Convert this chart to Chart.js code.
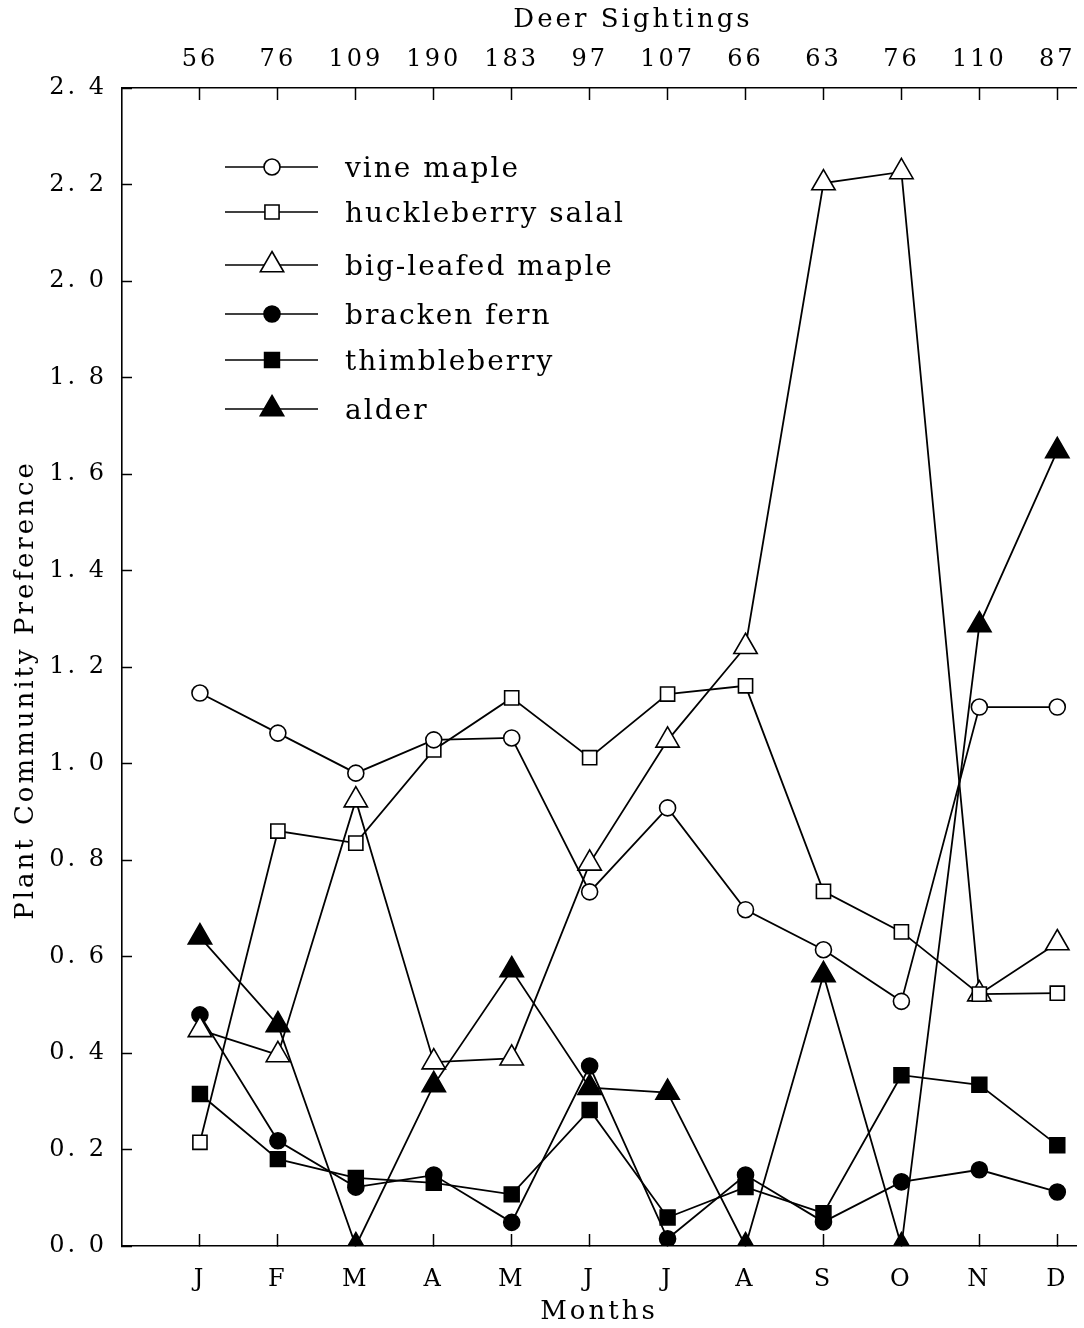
<!DOCTYPE html>
<html>
<head>
<meta charset="utf-8">
<script src="https://cdn.jsdelivr.net/npm/chart.js@4/dist/chart.umd.min.js"></script>
<style>
    html, body { margin: 0; padding: 0; background: #fff; }
    canvas { display: block; }
</style>
</head>
<body>
<canvas id="myChart" width="1084" height="1328"></canvas>
<script>
    "use strict";

    const months = ['J', 'F', 'M', 'A', 'M', 'J', 'J', 'A', 'S', 'O', 'N', 'D'];
    const deerSightings = [56, 76, 109, 190, 183, 97, 107, 66, 63, 76, 110, 87];
    const yTickLabels = ['0. 0', '0. 2', '0. 4', '0. 6', '0. 8', '1. 0', '1. 2', '1. 4', '1. 6', '1. 8', '2. 0', '2. 2', '2. 4'];

    const vineMaple = [1.146, 1.063, 0.980, 1.049, 1.053, 0.734, 0.908, 0.697, 0.614, 0.507, 1.117, 1.117];
    const huckleberrySalal = [0.215, 0.860, 0.835, 1.028, 1.136, 1.012, 1.144, 1.161, 0.735, 0.651, 0.522, 0.524];
    const bigLeafedMaple = [0.448, 0.396, 0.924, 0.381, 0.389, 0.793, 1.048, 1.242, 2.203, 2.226, 0.522, 0.628];
    const brackenFern = [0.479, 0.218, 0.122, 0.147, 0.049, 0.373, 0.015, 0.147, 0.050, 0.133, 0.158, 0.112];
    const thimbleberry = [0.315, 0.180, 0.141, 0.131, 0.107, 0.282, 0.059, 0.122, 0.068, 0.354, 0.334, 0.209];
    const alder = [0.640, 0.458, 0.0, 0.334, 0.572, 0.328, 0.318, 0.0, 0.562, 0.0, 1.287, 1.648];

    const FONT = "'DejaVu Serif', 'Liberation Serif', serif";

    function makeSet(label, values, style, filled, radius) {
        return {
            label: label,
            data: values.map((v, i) => ({x: i, y: v})),
            borderColor: '#000',
            borderWidth: 1.8,
            pointStyle: style,
            pointRadius: radius,
            pointHoverRadius: radius,
            pointBackgroundColor: filled ? '#000' : '#fff',
            pointBorderColor: '#000',
            pointBorderWidth: 1.6,
            tension: 0,
            fill: false,
            clip: {left: 40, top: 40, right: 40, bottom: 0}
        };
    }

    const series = [
        makeSet('vine maple', vineMaple, 'circle', false, 8),
        makeSet('huckleberry salal', huckleberrySalal, 'rect', false, 10),
        makeSet('big-leafed maple', bigLeafedMaple, 'triangle', false, 13.5),
        makeSet('bracken fern', brackenFern, 'circle', true, 8),
        makeSet('thimbleberry', thimbleberry, 'rect', true, 10.5),
        makeSet('alder', alder, 'triangle', true, 13.5)
    ];

    // one tick per month, nothing at the axis ends
    function onlyMonths(scale) {
        scale.ticks = months.map((m, i) => ({value: i}));
    }

    // fixed box sizes, so the plot area sits where the original one does
    function fixBox(h) {
        return function (scale) {
            scale.height = h;
            scale.paddingLeft = 0;
            scale.paddingRight = 0;
        };
    }

    // old typewriter look: wide letter spacing on everything
    const paperText = {
        id: 'paperText',
        beforeDraw(chart) {
            chart.ctx.letterSpacing = '3px';
        },
        afterDraw(chart) {
            const ctx = chart.ctx;
            ctx.save();
            ctx.letterSpacing = '3px';
            ctx.fillStyle = '#000';
            ctx.font = '26px ' + FONT;
            ctx.textAlign = 'center';
            ctx.textBaseline = 'middle';
            ctx.fillText('Deer Sightings', 633, 20);

            // y title sits a little below the middle of the axis in the original
            ctx.save();
            ctx.translate(26, 690);
            ctx.rotate(-Math.PI / 2);
            ctx.fillText('Plant Community Preference', 0, 0);
            ctx.restore();

            // legend: short line with the marker in the middle
            const rows = [167, 212, 265, 314, 360, 409];
            ctx.letterSpacing = '2px';
            ctx.font = '28px ' + FONT;
            ctx.textAlign = 'left';
            series.forEach(function (ds, i) {
                const y = rows[i];
                ctx.strokeStyle = '#000';
                ctx.lineWidth = 1.4;
                ctx.beginPath();
                ctx.moveTo(225, y);
                ctx.lineTo(318, y);
                ctx.stroke();
                ctx.fillStyle = ds.pointBackgroundColor;
                ctx.lineWidth = ds.pointBorderWidth;
                Chart.helpers.drawPoint(ctx, {
                    pointStyle: ds.pointStyle,
                    radius: ds.pointRadius,
                    rotation: 0,
                    borderWidth: ds.pointBorderWidth
                }, 272, y);
                ctx.fillStyle = '#000';
                ctx.fillText(ds.label, 345, y + 3);
            });
            ctx.restore();
        }
    };

    const ctx = document.getElementById('myChart').getContext('2d');
    const myChart = new Chart(ctx, {
        type: 'line',
        data: {datasets: series},
        plugins: [paperText],
        options: {
            responsive: false,
            animation: false,
            devicePixelRatio: 1,
            layout: {autoPadding: false, padding: {left: 0, right: 8, top: 0, bottom: 0}},
            plugins: {
                legend: {display: false},
                tooltip: {enabled: false}
            },
            scales: {
                x: {
                    type: 'linear',
                    position: 'bottom',
                    min: -1,
                    max: 11.24,
                    afterBuildTicks: onlyMonths,
                    afterFit: fixBox(82),
                    ticks: {
                        autoSkip: false,
                        maxRotation: 0,
                        padding: 31,
                        color: '#000',
                        font: {family: FONT, size: 24},
                        callback: (v) => months[v]
                    },
                    grid: {drawOnChartArea: false, tickLength: -12, tickWidth: 1.5, tickColor: '#000'},
                    border: {display: true, color: '#000', width: 1.6},
                    title: {
                        display: true,
                        text: 'Months',
                        color: '#000',
                        font: {family: FONT, size: 26},
                        padding: {top: 0, bottom: 0}
                    }
                },
                xTop: {
                    type: 'linear',
                    position: 'top',
                    min: -1,
                    max: 11.24,
                    afterBuildTicks: onlyMonths,
                    afterFit: fixBox(88),
                    ticks: {
                        autoSkip: false,
                        maxRotation: 0,
                        padding: 26,
                        color: '#000',
                        font: {family: FONT, size: 24},
                        callback: (v) => deerSightings[v]
                    },
                    grid: {drawOnChartArea: false, tickLength: -12, tickWidth: 1.5, tickColor: '#000'},
                    border: {display: true, color: '#000', width: 1.6}
                },
                y: {
                    min: 0,
                    max: 2.4,
                    afterFit(scale) {
                        scale.width = 122;
                        scale.paddingTop = 0;
                        scale.paddingBottom = 0;
                    },
                    ticks: {
                        stepSize: 0.2,
                        padding: 25,
                        color: '#000',
                        font: {family: FONT, size: 24},
                        callback: (v, i) => yTickLabels[i]
                    },
                    grid: {drawOnChartArea: false, tickLength: -10, tickWidth: 1.5, tickColor: '#000'},
                    border: {display: true, color: '#000', width: 1.6}
                }
            }
        }
    });
</script>
</body>
</html>
